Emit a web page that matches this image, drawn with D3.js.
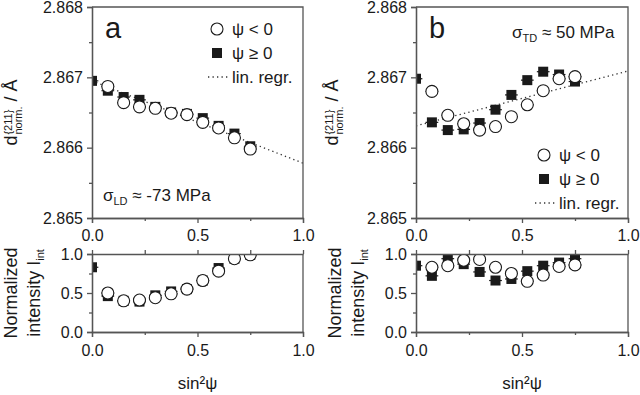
<!DOCTYPE html>
<html>
<head>
<meta charset="utf-8">
<script src="https://cdn.jsdelivr.net/npm/d3@7"></script>
<style>
  body { margin: 0; background: #fff; }
  svg { font-family: "Liberation Sans", Arial, sans-serif; }
</style>
</head>
<body>
<script>
// Chart settings
const width = 640;
const height = 395;
const axisColor = '#555';
const inkColor = '#1a1a1a';
const xErr = 0.03;

// Data: sin²ψ positions
const sin2psi = [0, 0.075, 0.15, 0.225, 0.3, 0.375, 0.45, 0.525, 0.6, 0.675, 0.75];
const sin2psiNeg = sin2psi.slice(1);

// Panel a (LD) lattice spacing, Å
const dA_neg = [2.86687, 2.86664, 2.86658, 2.86656, 2.86649, 2.86647, 2.86636, 2.86628, 2.86614, 2.86598];
const dA_pos = [2.86695, 2.86681, 2.86672, 2.86668, 2.86658, 2.86650, 2.86648, 2.86642, 2.86631, 2.86620, 2.86602];
const regA = [2.86695, 2.86578]; // at sin²ψ = 0 and 1

// Panel b (TD) lattice spacing, Å
const dB_neg = [2.86680, 2.86646, 2.86634, 2.86625, 2.86630, 2.86644, 2.86661, 2.86681, 2.86698, 2.86701];
const dB_pos = [2.86698, 2.86636, 2.86625, 2.86626, 2.86635, 2.86654, 2.86675, 2.86696, 2.86708, 2.86704, 2.86694];
const regB = [2.86631, 2.86709];

// Normalized integrated intensity
const iA_neg = [0.50, 0.40, 0.41, 0.44, 0.49, 0.55, 0.66, 0.78, 0.94, 0.99];
const iA_pos = [0.83, 0.46, 0.40, 0.39, 0.47, 0.52, 0.55, 0.66, 0.82, 0.94, 0.99];
const iB_neg = [0.83, 0.85, 0.92, 0.93, 0.83, 0.75, 0.65, 0.73, 0.84, 0.86];
const iB_pos = [0.85, 0.72, 0.94, 0.87, 0.77, 0.66, 0.68, 0.78, 0.85, 0.89, 0.94];

// Tick values
const dTicks = [2.865, 2.866, 2.867, 2.868];
const dMinor = [2.8655, 2.8665, 2.8675];
const unitTicks = [0, 0.5, 1];
const unitMinor = [0.25, 0.75];

const legendLabels = ['\u03c8 < 0', '\u03c8 \u2265 0', 'lin. regr.'];

const panels = [
  { id: 'a', left: 92, right: 303, dNeg: dA_neg, dPos: dA_pos, reg: regA, iNeg: iA_neg, iPos: iA_pos,
    stress: { sub: 'LD', rest: ' \u2248 -73 MPa', x: 103, y: 201 },
    legend: { x: 217, y: 29 }, titleX: 17, intX: [17, 40] },
  { id: 'b', left: 416, right: 628, dNeg: dB_neg, dPos: dB_pos, reg: regB, iNeg: iB_neg, iPos: iB_pos,
    stress: { sub: 'TD', rest: ' \u2248 50 MPa', x: 512, y: 38 },
    legend: { x: 544, y: 155 }, titleX: 338, intX: [341, 364] }
];

const topBox = { y0: 7, y1: 218 };
const botBox = { y0: 254, y1: 332 };

const svg = d3.select('body')
              .append('svg')
              .attr('width', width)
              .attr('height', height);

function styleAxis(g, labels) {
  g.selectAll('path, line').attr('stroke', axisColor).attr('stroke-width', 1.3);
  g.selectAll('text').attr('fill', inkColor).attr('font-size', 16);
  if (!labels) g.selectAll('text').remove();
  g.attr('font-family', null);
}

function addAxis(axis, transform, labels) {
  svg.append('g')
     .attr('transform', transform)
     .call(axis)
     .call(g => styleAxis(g, labels));
}

function drawPoints(g, xs, ys, x, y, kind) {
  const pts = xs.map((d, i) => [d, ys[i]]);
  g.selectAll(null)
   .data(pts)
   .enter()
   .append('line')
   .attr('x1', d => x(d[0] - xErr))
   .attr('x2', d => x(d[0] + xErr))
   .attr('y1', d => y(d[1]))
   .attr('y2', d => y(d[1]))
   .attr('stroke', inkColor)
   .attr('stroke-width', 1.2);
  if (kind === 'square') {
    g.selectAll(null)
     .data(pts)
     .enter()
     .append('rect')
     .attr('x', d => x(d[0]) - 5)
     .attr('y', d => y(d[1]) - 5)
     .attr('width', 10)
     .attr('height', 10)
     .attr('fill', inkColor);
  } else {
    g.selectAll(null)
     .data(pts)
     .enter()
     .append('circle')
     .attr('cx', d => x(d[0]))
     .attr('cy', d => y(d[1]))
     .attr('r', 6)
     .attr('fill', '#fff')
     .attr('stroke', inkColor)
     .attr('stroke-width', 1.1);
  }
}

panels.forEach(p => {
  const x = d3.scaleLinear().domain([0, 1]).range([p.left, p.right]);
  const yD = d3.scaleLinear().domain([2.865, 2.868]).range([topBox.y1, topBox.y0]);
  const yI = d3.scaleLinear().domain([0, 1]).range([botBox.y1, botBox.y0]);

  // Clip paths
  [['top', topBox], ['bot', botBox]].forEach(([k, b]) => {
    svg.append('clipPath').attr('id', `clip-${p.id}-${k}`)
       .append('rect')
       .attr('x', p.left).attr('y', b.y0)
       .attr('width', p.right - p.left).attr('height', b.y1 - b.y0);
  });

  // --- Upper plot: d spacing ---
  const gTop = svg.append('g').attr('clip-path', `url(#clip-${p.id}-top)`);
  gTop.append('line')
      .attr('x1', x(0)).attr('x2', x(1))
      .attr('y1', yD(p.reg[0])).attr('y2', yD(p.reg[1]))
      .attr('stroke', '#333').attr('stroke-width', 1.3)
      .attr('stroke-dasharray', '1.3,3.2');
  drawPoints(gTop, sin2psi, p.dPos, x, yD, 'square');
  drawPoints(gTop, sin2psiNeg, p.dNeg, x, yD, 'circle');

  addAxis(d3.axisLeft(yD).tickValues(dTicks).tickFormat(d3.format('.3f')).tickSizeOuter(0).tickSize(5).tickPadding(4),
          `translate(${p.left},0)`, true);
  addAxis(d3.axisLeft(yD).tickValues(dMinor).tickSize(3).tickSizeOuter(0).tickFormat(''),
          `translate(${p.left},0)`, false);
  addAxis(d3.axisBottom(x).tickValues(unitTicks).tickFormat(d3.format('.1f')).tickSizeOuter(0).tickSize(5).tickPadding(7),
          `translate(0,${topBox.y1})`, true);
  addAxis(d3.axisBottom(x).tickValues(unitMinor).tickSize(3).tickSizeOuter(0).tickFormat(''),
          `translate(0,${topBox.y1})`, false);
  svg.append('path')
     .attr('d', `M${p.left},${topBox.y0}H${p.right}V${topBox.y1}`)
     .attr('fill', 'none').attr('stroke', axisColor).attr('stroke-width', 1.3);

  // --- Lower plot: intensity ---
  const gBot = svg.append('g').attr('clip-path', `url(#clip-${p.id}-bot)`);
  drawPoints(gBot, sin2psi, p.iPos, x, yI, 'square');
  drawPoints(gBot, sin2psiNeg, p.iNeg, x, yI, 'circle');

  addAxis(d3.axisLeft(yI).tickValues(unitTicks).tickFormat(d3.format('.1f')).tickSizeOuter(0).tickSize(5).tickPadding(4),
          `translate(${p.left},0)`, true);
  addAxis(d3.axisLeft(yI).tickValues(unitMinor).tickSize(3).tickSizeOuter(0).tickFormat(''),
          `translate(${p.left},0)`, false);
  addAxis(d3.axisBottom(x).tickValues(unitTicks).tickFormat(d3.format('.1f')).tickSizeOuter(0).tickSize(5).tickPadding(8),
          `translate(0,${botBox.y1})`, true);
  addAxis(d3.axisBottom(x).tickValues(unitMinor).tickSize(3).tickSizeOuter(0).tickFormat(''),
          `translate(0,${botBox.y1})`, false);
  addAxis(d3.axisTop(x).tickValues(unitTicks.concat(unitMinor)).tickSize(4).tickSizeOuter(0).tickFormat(''),
          `translate(0,${botBox.y0})`, false);
  svg.append('line')
     .attr('x1', p.right).attr('x2', p.right)
     .attr('y1', botBox.y0).attr('y2', botBox.y1)
     .attr('stroke', axisColor).attr('stroke-width', 1.3);

  // Panel letter
  svg.append('text')
     .attr('x', p.left + 13).attr('y', 38)
     .attr('font-size', 29).attr('fill', inkColor)
     .text(p.id);

  // Stress annotation
  const st = svg.append('text')
     .attr('x', p.stress.x).attr('y', p.stress.y)
     .attr('font-size', 17).attr('fill', inkColor);
  st.append('tspan').text('\u03c3');
  st.append('tspan').attr('font-size', 11).attr('dy', 4).text(p.stress.sub);
  st.append('tspan').attr('dy', -4).text(p.stress.rest);

  // Legend
  const lg = svg.append('g').attr('transform', `translate(${p.legend.x},${p.legend.y})`);
  lg.append('circle').attr('r', 6).attr('fill', '#fff').attr('stroke', inkColor).attr('stroke-width', 1.1);
  lg.append('rect').attr('x', -5).attr('y', 19).attr('width', 10).attr('height', 10).attr('fill', inkColor);
  lg.append('line').attr('x1', -9).attr('x2', 11).attr('y1', 48).attr('y2', 48)
    .attr('stroke', '#333').attr('stroke-width', 1.3).attr('stroke-dasharray', '1.3,3.2');
  lg.selectAll('text.leg')
    .data(legendLabels)
    .enter()
    .append('text')
    .attr('class', 'leg')
    .attr('x', 15)
    .attr('y', (d, i) => i * 24 + 6)
    .attr('font-size', 17)
    .attr('fill', inkColor)
    .text(d => d);

  // X titles
  svg.append('text')
     .attr('x', (p.left + p.right) / 2).attr('y', 389)
     .attr('text-anchor', 'middle').attr('font-size', 17).attr('fill', inkColor)
     .text('sin\u00b2\u03c8');

  // Y title, upper plot
  const ty = svg.append('g').attr('transform', `translate(${p.titleX},${(topBox.y0 + topBox.y1) / 2}) rotate(-90)`);
  const inner = ty.append('g');
  const t1 = inner.append('text').attr('font-size', 18).attr('fill', inkColor).text('d');
  const w1 = t1.node().getComputedTextLength() + 1;
  const sup = inner.append('text').attr('x', w1).attr('y', -5).attr('font-size', 11).attr('fill', inkColor).text('{211}');
  const sub = inner.append('text').attr('x', w1).attr('y', 5).attr('font-size', 11).attr('fill', inkColor).text('norm.');
  const w2 = Math.max(sup.node().getComputedTextLength(), sub.node().getComputedTextLength()) + 5;
  const t3 = inner.append('text').attr('x', w1 + w2).attr('font-size', 18).attr('fill', inkColor).text('/ \u00c5');
  const total = w1 + w2 + t3.node().getComputedTextLength();
  inner.attr('transform', `translate(${-total / 2},0)`);

  // Y title, lower plot
  const cy = (botBox.y0 + botBox.y1) / 2;
  svg.append('text')
     .attr('transform', `translate(${p.intX[0]},${cy}) rotate(-90)`)
     .attr('text-anchor', 'middle').attr('font-size', 18).attr('fill', inkColor)
     .text('Normalized');
  const it = svg.append('text')
     .attr('transform', `translate(${p.intX[1]},${cy}) rotate(-90)`)
     .attr('text-anchor', 'middle').attr('font-size', 18).attr('fill', inkColor);
  it.append('tspan').text('intensity I');
  it.append('tspan').attr('font-size', 11).attr('dy', 4).text('int');
});
</script>
</body>
</html>
